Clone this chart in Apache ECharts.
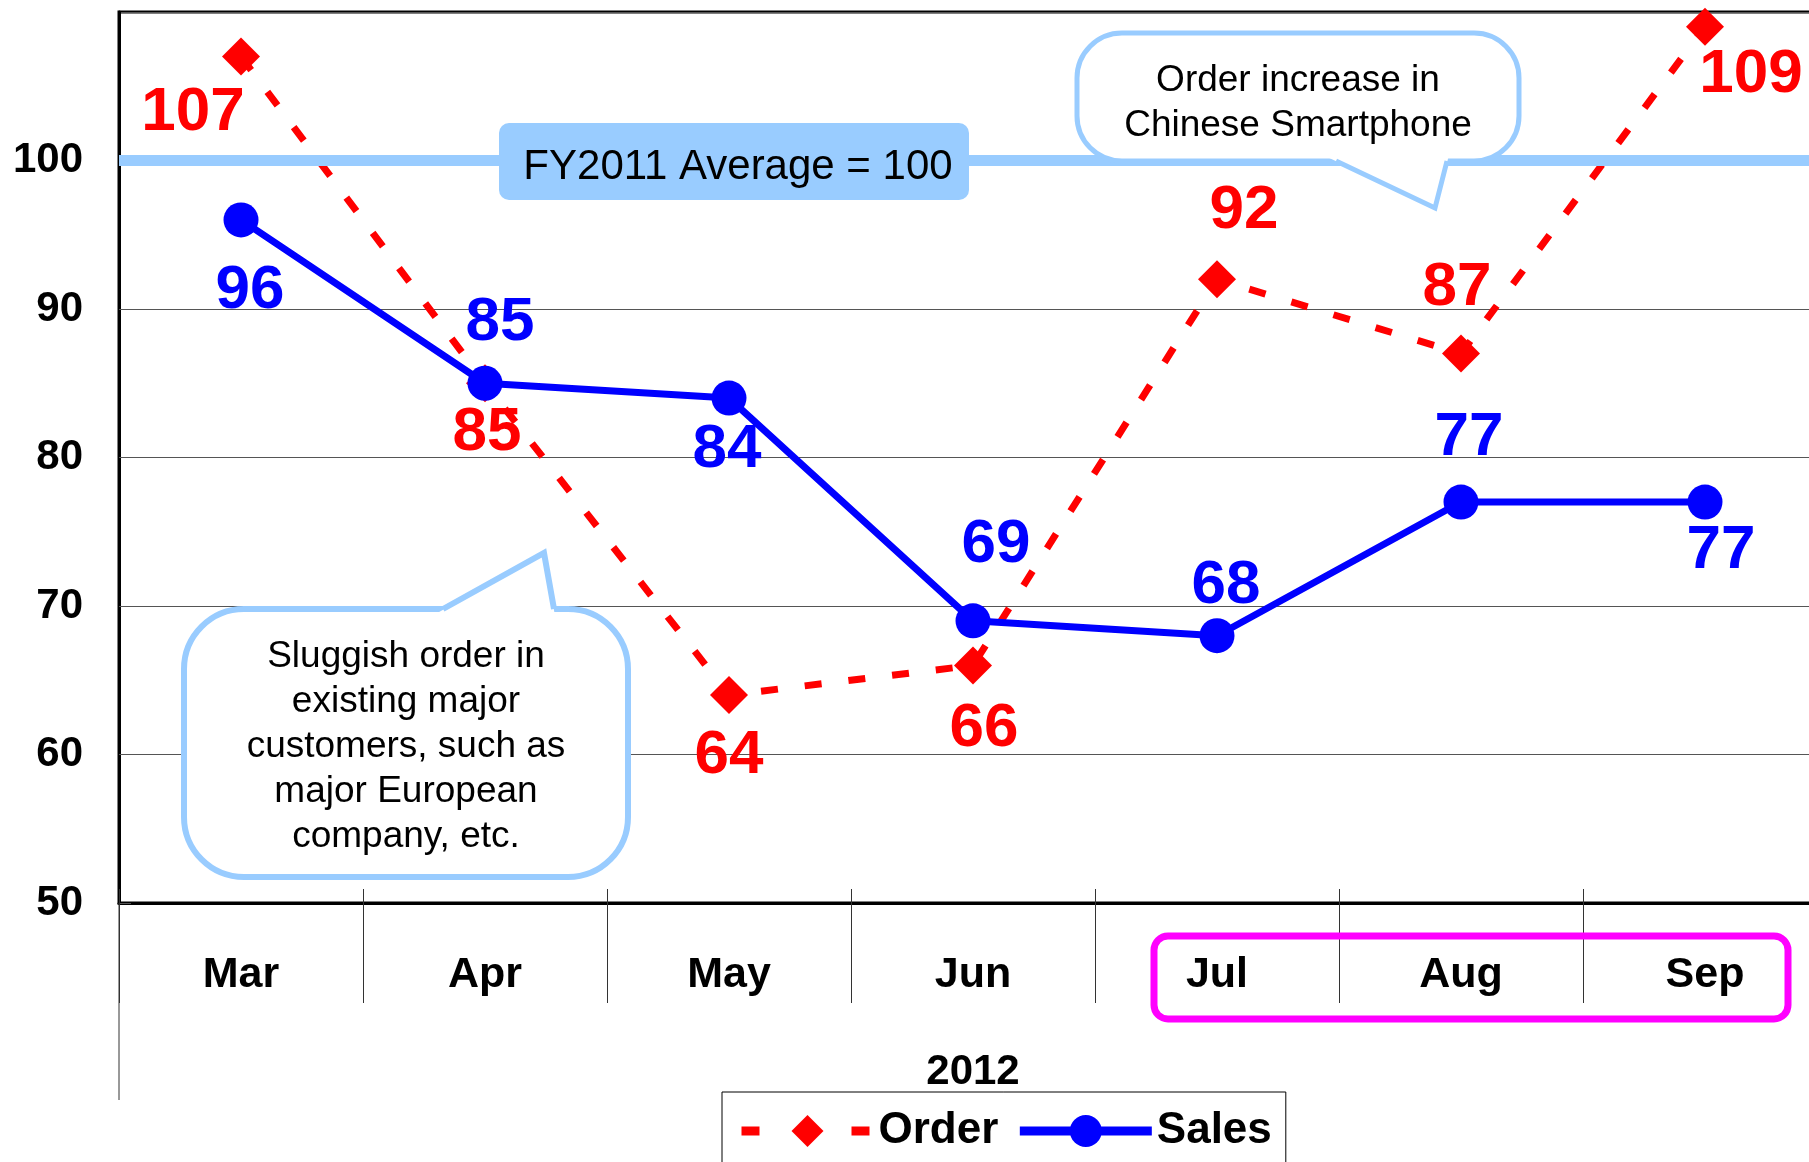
<!DOCTYPE html>
<html>
<head>
<meta charset="utf-8">
<script src="https://cdn.jsdelivr.net/npm/echarts@6/dist/echarts.min.js"></script>
<style>
    html, body { margin: 0; padding: 0; background: #fff; overflow: hidden; }
    /* plot runs past the right edge of the picture, like the original */
    #chart { width: 1830px; height: 1162px; }
</style>
</head>
<body>
<div id="chart"></div>
<script>
const months = ['Mar', 'Apr', 'May', 'Jun', 'Jul', 'Aug', 'Sep']
const orderValues = [107, 85, 64, 66, 92, 87, 109]
const salesValues = [96, 85, 84, 69, 68, 77, 77]
const averageValue = 100
const yearLabel = '2012'

// label offsets (px) from each point
const orderLabelOffset = [[-48, 56], [2, 50], [0, 61], [11, 64], [27, -68], [-4, -66], [46, 48]]
const salesLabelOffset = [[9, 71], [15, -60], [-2, 52], [23, -76], [9, -50], [8, -64], [16, 49]]

const FONT = 'Liberation Sans, Arial, sans-serif'
const CALLOUT_BLUE = '#99CCFF'

function withLabels(values, offsets, color) {
    return values.map((v, i) => ({
        value: v,
        label: {
            show: true,
            position: 'inside',
            offset: offsets[i],
            color: color,
            fontSize: 62,
            fontWeight: 'bold',
            fontFamily: FONT
        }
    }))
}

const chart = echarts.init(document.getElementById('chart'))

const option = {
    animation: false,
    grid: {
        left: 119,
        right: 3,
        top: 12,
        bottom: 259,
        show: true,
        borderColor: '#000',
        borderWidth: 3
    },
    legend: {
        left: 722,
        top: 1092,
        orient: 'horizontal',
        itemWidth: 132,
        itemHeight: 40,
        itemGap: 17,
        padding: [17, 14, 40, 15],
        borderColor: '#000',
        borderWidth: 1,
        textStyle: {
            fontSize: 44,
            fontWeight: 'bold',
            color: '#000',
            fontFamily: FONT
        },
        data: [
            {name: 'Order', lineStyle: {type: [18, 92], width: 9}},
            {name: 'Sales', lineStyle: {width: 9}}
        ]
    },
    xAxis: [
        {
            type: 'category',
            data: months,
            name: yearLabel,
            nameLocation: 'middle',
            nameGap: 148,
            nameTextStyle: {
                fontSize: 42,
                fontWeight: 'bold',
                color: '#000',
                fontFamily: FONT,
                verticalAlign: 'top'
            },
            axisLine: {lineStyle: {color: '#000', width: 3}},
            axisTick: {
                show: true,
                interval: 0,
                length: 100,
                lineStyle: {color: '#333', width: 1}
            },
            axisLabel: {
                margin: 51,
                fontSize: 43,
                fontWeight: 'bold',
                color: '#000',
                fontFamily: FONT
            }
        },
        {
            // short ticks poking up into the plot
            type: 'category',
            data: months,
            position: 'bottom',
            axisLine: {show: false},
            axisLabel: {show: false},
            axisTick: {
                show: true,
                inside: true,
                interval: 0,
                length: 14,
                lineStyle: {color: '#333', width: 1}
            }
        }
    ],
    yAxis: {
        type: 'value',
        min: 50,
        max: 110,
        interval: 10,
        axisLine: {show: true, lineStyle: {color: '#000', width: 3}},
        axisTick: {show: true, inside: true, length: 12, lineStyle: {color: '#555'}},
        splitLine: {lineStyle: {color: '#555', width: 1}},
        axisLabel: {
            margin: 36,
            showMaxLabel: false,
            fontSize: 42,
            fontWeight: 'bold',
            color: '#000',
            fontFamily: FONT
        }
    },
    series: [
        {
            name: 'Order',
            type: 'line',
            z: 3,
            data: withLabels(orderValues, orderLabelOffset, '#FF0000'),
            symbol: 'diamond',
            symbolSize: 38,
            itemStyle: {color: '#FF0000'},
            lineStyle: {color: '#FF0000', width: 7, type: [17, 27]},
            markLine: {
                silent: true,
                symbol: ['none', 'none'],
                label: {show: false},
                lineStyle: {color: CALLOUT_BLUE, width: 11, type: 'solid'},
                data: [{yAxis: averageValue}]
            }
        },
        {
            name: 'Sales',
            type: 'line',
            z: 4,
            data: withLabels(salesValues, salesLabelOffset, '#0000FF'),
            symbol: 'circle',
            symbolSize: 35,
            itemStyle: {color: '#0000FF'},
            lineStyle: {color: '#0000FF', width: 7}
        }
    ],
    graphic: [
        // left boundary line of the category area
        {
            type: 'line', z: 10,
            shape: {x1: 119, y1: 903, x2: 119, y2: 1100},
            style: {stroke: '#333', lineWidth: 1}
        },
        // FY2011 average tag
        {
            type: 'rect', z: 10,
            shape: {x: 499, y: 123, width: 470, height: 77, r: 10},
            style: {fill: CALLOUT_BLUE}
        },
        {
            type: 'text', z: 11,
            style: {
                text: 'FY2011 Average = ' + averageValue,
                x: 738, y: 167,
                align: 'center', verticalAlign: 'middle',
                fontSize: 42, fontFamily: FONT, fill: '#000'
            }
        },
        // callout: Chinese smartphone
        {
            type: 'rect', z: 10,
            shape: {x: 1077, y: 33, width: 442, height: 128, r: 45},
            style: {fill: '#fff', stroke: CALLOUT_BLUE, lineWidth: 5}
        },
        {
            type: 'polygon', z: 11,
            shape: {points: [[1323, 155], [1435, 208], [1449, 155]]},
            style: {fill: '#fff'}
        },
        {
            type: 'polyline', z: 12,
            shape: {points: [[1336, 161], [1435, 208], [1447, 161]]},
            style: {stroke: CALLOUT_BLUE, lineWidth: 5, fill: null}
        },
        {
            type: 'text', z: 12,
            style: {
                text: 'Order increase in\nChinese Smartphone',
                x: 1298, y: 103,
                align: 'center', verticalAlign: 'middle',
                fontSize: 37, lineHeight: 45, fontFamily: FONT, fill: '#000'
            }
        },
        // callout: sluggish order
        {
            type: 'rect', z: 10,
            shape: {x: 184, y: 609, width: 444, height: 268, r: 60},
            style: {fill: '#fff', stroke: CALLOUT_BLUE, lineWidth: 6}
        },
        {
            type: 'polygon', z: 11,
            shape: {points: [[432, 616], [544, 553], [555, 616]]},
            style: {fill: '#fff'}
        },
        {
            type: 'polyline', z: 12,
            shape: {points: [[443, 609], [544, 553], [554, 609]]},
            style: {stroke: CALLOUT_BLUE, lineWidth: 6, fill: null}
        },
        {
            type: 'text', z: 12,
            style: {
                text: 'Sluggish order in\nexisting major\ncustomers, such as\nmajor European\ncompany, etc.',
                x: 406, y: 747,
                align: 'center', verticalAlign: 'middle',
                fontSize: 37, lineHeight: 45, fontFamily: FONT, fill: '#000'
            }
        },
        // magenta frame around Jul-Sep
        {
            type: 'rect', z: 10,
            shape: {x: 1154, y: 936, width: 634, height: 83, r: 14},
            style: {fill: null, stroke: '#FF00FF', lineWidth: 7}
        }
    ]
}

chart.setOption(option)
</script>
</body>
</html>
